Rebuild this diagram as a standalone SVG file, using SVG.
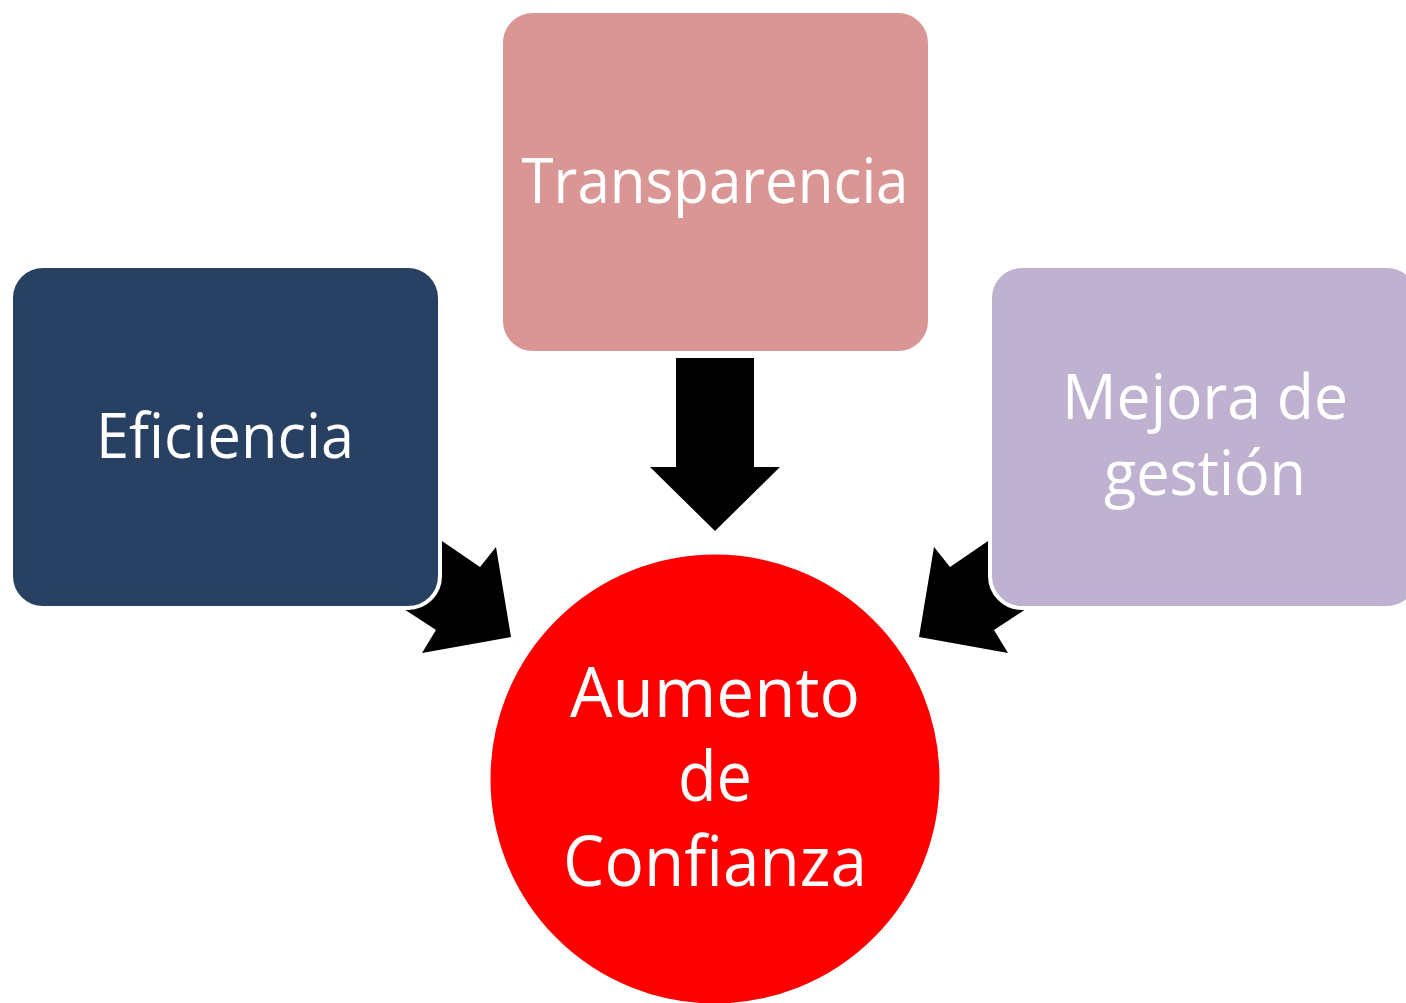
<svg xmlns="http://www.w3.org/2000/svg" width="1406" height="1003" viewBox="0 0 1406 1003">
<style>
.box{stroke:#ffffff;stroke-width:4}
.lbl{font-family:"Open Sans","Liberation Sans",sans-serif;font-size:62px;fill:#ffffff;text-anchor:middle}
.big{font-size:69px}
.arr{fill:#000000}
</style>
<rect width="1406" height="1003" fill="#ffffff"/>
<g id="connectors">
<polygon class="arr" points="676,358 754,358 754,467 780,467 715,531 650,467 676,467"/>
<polygon class="arr" points="420,526 480,567 496,547 511,637 422,653 436,630 384,596"/>
<polygon class="arr" points="1010,526 950,567 934,547 919,637 1008,653 994,630 1046,596"/>
</g>
<g id="node-eficiencia">
<rect class="box" x="11" y="266" width="429" height="342" rx="32" fill="#284162"/>
<text class="lbl" x="225" y="458" textLength="258" lengthAdjust="spacingAndGlyphs">Eficiencia</text>
</g>
<g id="node-transparencia">
<rect class="box" x="501" y="11" width="429" height="342" rx="32" fill="#D99694"/>
<text class="lbl" x="715" y="203" textLength="387" lengthAdjust="spacingAndGlyphs">Transparencia</text>
</g>
<g id="node-mejora">
<rect class="box" x="990" y="266" width="429" height="342" rx="32" fill="#BFB1D0"/>
<text class="lbl" x="1205" y="419" textLength="286" lengthAdjust="spacingAndGlyphs">Mejora de</text>
<text class="lbl" x="1205" y="495" textLength="202" lengthAdjust="spacingAndGlyphs">gestión</text>
</g>
<g id="node-aumento">
<circle cx="715" cy="779" r="226" fill="#FF0000" stroke="#ffffff" stroke-width="3"/>
<text class="lbl big" x="715" y="717" textLength="290" lengthAdjust="spacingAndGlyphs">Aumento</text>
<text class="lbl big" x="715" y="801" textLength="74" lengthAdjust="spacingAndGlyphs">de</text>
<text class="lbl big" x="715" y="886" textLength="304" lengthAdjust="spacingAndGlyphs">Confianza</text>
</g>
</svg>
